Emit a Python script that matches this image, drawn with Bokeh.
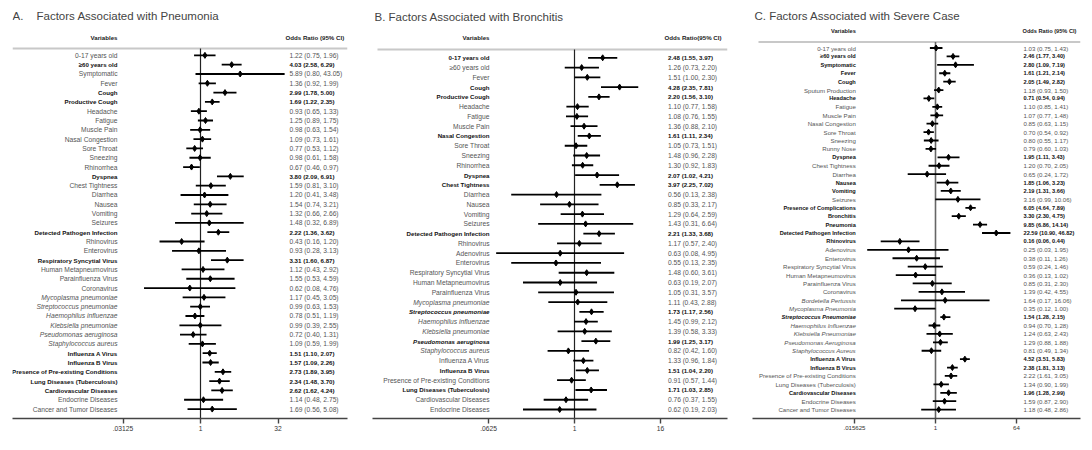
from bokeh.plotting import figure
from bokeh.layouts import row
from bokeh.models import Range1d, FixedTicker, CustomJSTickFormatter, ColumnDataSource, Label
from bokeh.core.properties import value, field
from bokeh.embed import file_html
from bokeh.resources import INLINE

# ---------------- Panel A: Pneumonia ----------------
a_vars = ["0-17 years old", "≥60 years old", "Symptomatic", "Fever", "Cough", "Productive Cough",
          "Headache", "Fatigue", "Muscle Pain", "Nasal Congestion", "Sore Throat", "Sneezing",
          "Rhinorrhea", "Dyspnea", "Chest Tightness", "Diarrhea", "Nausea", "Vomiting", "Seizures",
          "Detected Pathogen Infection", "Rhinovirus", "Enterovirus", "Respiratory Syncytial Virus",
          "Human Metapneumovirus", "Parainfluenza Virus", "Coronavirus", "Mycoplasma pneumoniae",
          "Streptococcus pneumoniae", "Haemophilus influenzae", "Klebsiella pneumoniae",
          "Pseudomonas aeruginosa", "Staphylococcus aureus", "Influenza A Virus", "Influenza B Virus",
          "Presence of Pre-existing Conditions", "Lung Diseases (Tuberculosis)",
          "Cardiovascular Diseases", "Endocrine Diseases", "Cancer and Tumor Diseases"]
a_or = [1.22, 4.03, 5.89, 1.36, 2.99, 1.69, 0.93, 1.25, 0.98, 1.09, 0.77, 0.98, 0.67, 3.80, 1.59,
        1.20, 1.54, 1.32, 1.48, 2.22, 0.43, 0.93, 3.31, 1.12, 1.55, 0.62, 1.17, 0.99, 0.78, 0.99,
        0.72, 1.09, 1.51, 1.57, 2.73, 2.34, 2.62, 1.14, 1.69]
a_lo = [0.75, 2.58, 0.80, 0.92, 1.78, 1.22, 0.65, 0.89, 0.63, 0.73, 0.53, 0.61, 0.46, 2.09, 0.81,
        0.41, 0.74, 0.66, 0.32, 1.36, 0.16, 0.28, 1.60, 0.43, 0.53, 0.08, 0.45, 0.63, 0.51, 0.39,
        0.40, 0.59, 1.10, 1.09, 1.89, 1.48, 1.62, 0.48, 0.56]
a_hi = [1.96, 6.29, 43.05, 1.99, 5.00, 2.35, 1.33, 1.75, 1.54, 1.61, 1.12, 1.58, 0.97, 6.91, 3.10,
        3.48, 3.21, 2.66, 6.89, 3.62, 1.20, 3.13, 6.87, 2.92, 4.59, 4.76, 3.05, 1.53, 1.19, 2.55,
        1.31, 1.99, 2.07, 2.26, 3.95, 3.70, 4.24, 2.75, 5.08]
a_bold = ["≥60 years old", "Cough", "Productive Cough", "Dyspnea", "Detected Pathogen Infection",
          "Respiratory Syncytial Virus", "Influenza A Virus", "Influenza B Virus",
          "Presence of Pre-existing Conditions", "Lung Diseases (Tuberculosis)", "Cardiovascular Diseases"]
a_italic = ["Mycoplasma pneumoniae", "Streptococcus pneumoniae", "Haemophilus influenzae",
            "Klebsiella pneumoniae", "Pseudomonas aeruginosa", "Staphylococcus aureus"]
a_ticks = [2 ** -5, 1, 2 ** 5]

# ---------------- Panel B: Bronchitis ----------------
b_vars = ["0-17 years old", "≥60 years old", "Fever", "Cough", "Productive Cough", "Headache",
          "Fatigue", "Muscle Pain", "Nasal Congestion", "Sore Throat", "Sneezing", "Rhinorrhea",
          "Dyspnea", "Chest Tightness", "Diarrhea", "Nausea", "Vomiting", "Seizures",
          "Detected Pathogen Infection", "Rhinovirus", "Adenovirus", "Enterovirus",
          "Respiratory Syncytial Virus", "Human Metapneumovirus", "Parainfluenza Virus",
          "Mycoplasma pneumoniae", "Streptococcus pneumoniae", "Haemophilus influenzae",
          "Klebsiella pneumoniae", "Pseudomonas aeruginosa", "Staphylococcus aureus",
          "Influenza A Virus", "Influenza B Virus", "Presence of Pre-existing Conditions",
          "Lung Diseases (Tuberculosis)", "Cardiovascular Diseases", "Endocrine Diseases"]
b_or = [2.48, 1.26, 1.51, 4.28, 2.20, 1.10, 1.08, 1.36, 1.61, 1.05, 1.48, 1.30, 2.07, 3.97, 0.56,
        0.85, 1.29, 1.43, 2.21, 1.17, 0.63, 0.55, 1.48, 0.63, 1.05, 1.11, 1.73, 1.45, 1.39, 1.99,
        0.82, 1.33, 1.51, 0.91, 1.71, 0.76, 0.62]
b_lo = [1.55, 0.73, 1.00, 2.35, 1.56, 0.77, 0.76, 0.88, 1.11, 0.73, 0.96, 0.92, 1.02, 2.25, 0.13,
        0.33, 0.64, 0.31, 1.33, 0.57, 0.08, 0.13, 0.60, 0.19, 0.31, 0.43, 1.17, 0.99, 0.58, 1.25,
        0.42, 0.96, 1.04, 0.57, 1.03, 0.37, 0.19]
b_hi = [3.97, 2.20, 2.30, 7.81, 3.10, 1.58, 1.55, 2.10, 2.34, 1.51, 2.28, 1.83, 4.21, 7.02, 2.38,
        2.17, 2.59, 6.64, 3.68, 2.40, 4.95, 2.35, 3.61, 2.07, 3.57, 2.88, 2.56, 2.12, 3.33, 3.17,
        1.60, 1.84, 2.20, 1.44, 2.85, 1.55, 2.03]
b_bold = ["0-17 years old", "Cough", "Productive Cough", "Nasal Congestion", "Dyspnea",
          "Chest Tightness", "Detected Pathogen Infection", "Streptococcus pneumoniae",
          "Pseudomonas aeruginosa", "Influenza B Virus", "Lung Diseases (Tuberculosis)"]
b_italic = ["Mycoplasma pneumoniae", "Streptococcus pneumoniae", "Haemophilus influenzae",
            "Klebsiella pneumoniae", "Pseudomonas aeruginosa", "Staphylococcus aureus"]
b_ticks = [2 ** -4, 1, 2 ** 4]

# ---------------- Panel C: Severe case ----------------
c_vars = ["0-17 years old", "≥60 years old", "Symptomatic", "Fever", "Cough", "Sputum Production",
          "Headache", "Fatigue", "Muscle Pain", "Nasal Congestion", "Sore Throat", "Sneezing",
          "Runny Nose", "Dyspnea", "Chest Tightness", "Diarrhea", "Nausea", "Vomiting", "Seizures",
          "Presence of Complications", "Bronchitis", "Pneumonia", "Detected Pathogen Infection",
          "Rhinovirus", "Adenovirus", "Enterovirus", "Respiratory Syncytial Virus",
          "Human Metapneumovirus", "Parainfluenza Virus", "Coronavirus", "Bordetella Pertussis",
          "Mycoplasma Pneumonia", "Streptococcus Pneumoniae", "Haemophilus Influenzae",
          "Klebsiella Pneumoniae", "Pseudomonas Aeruginosa", "Staphylococcus Aureus",
          "Influenza A Virus", "Influenza B Virus", "Presence of Pre-existing Conditions",
          "Lung Diseases (Tuberculosis)", "Cardiovascular Diseases", "Endocrine Diseases",
          "Cancer and Tumor Diseases"]
c_or = [1.03, 2.46, 2.80, 1.61, 2.05, 1.18, 0.71, 1.10, 1.07, 0.85, 0.70, 0.80, 0.79, 1.95, 1.20,
        0.65, 1.85, 2.19, 3.16, 6.05, 3.30, 9.85, 22.59, 0.16, 0.25, 0.38, 0.59, 0.36, 0.85, 1.39,
        1.64, 0.35, 1.54, 0.94, 1.24, 1.29, 0.81, 4.52, 2.38, 2.22, 1.34, 1.96, 1.59, 1.18]
c_lo = [0.75, 1.77, 1.09, 1.21, 1.49, 0.93, 0.54, 0.85, 0.77, 0.63, 0.54, 0.55, 0.60, 1.11, 0.70,
        0.24, 1.06, 1.31, 0.99, 4.64, 2.30, 6.86, 10.90, 0.06, 0.03, 0.11, 0.24, 0.13, 0.31, 0.42,
        0.17, 0.12, 1.28, 0.70, 0.63, 0.88, 0.49, 3.51, 1.81, 1.61, 0.90, 1.28, 0.87, 0.48]
c_hi = [1.43, 3.40, 7.19, 2.14, 2.82, 1.50, 0.94, 1.41, 1.48, 1.15, 0.92, 1.17, 1.03, 3.43, 2.05,
        1.72, 3.23, 3.66, 10.06, 7.89, 4.75, 14.14, 46.82, 0.44, 1.95, 1.26, 1.46, 1.02, 2.30, 4.55,
        16.06, 1.00, 2.15, 1.28, 2.43, 1.88, 1.34, 5.83, 3.13, 3.05, 1.99, 2.99, 2.90, 2.86]
c_bold = ["≥60 years old", "Symptomatic", "Fever", "Cough", "Headache", "Dyspnea", "Nausea",
          "Vomiting", "Presence of Complications", "Bronchitis", "Pneumonia",
          "Detected Pathogen Infection", "Rhinovirus", "Streptococcus Pneumoniae",
          "Influenza A Virus", "Influenza B Virus", "Cardiovascular Diseases"]
c_italic = ["Bordetella Pertussis", "Mycoplasma Pneumonia", "Streptococcus Pneumoniae",
            "Haemophilus Influenzae", "Klebsiella Pneumoniae", "Pseudomonas Aeruginosa",
            "Staphylococcus Aureus"]
c_ticks = [2 ** -6, 1, 2 ** 6]

FONT = "Liberation Sans"

# layout configuration for each panel (pixels in the picture)
cfgA = dict(left=0, w=370, h=445, fl=12, fr=347, x1=200, k=15.5, y0=55, dy=9.33, axis=419,
            hline=48, head=36.7, title_y=16, lab_r=117, or_l=289, orh_l=285,
            fs="6.7px", fsb="6.15px", lw=1.8, ms=6, ref_color="#222222", ref_w=1.2)
cfgB = dict(left=370, w=370, h=445, fl=372, fr=727, x1=574, k=21.5, y0=57.3, dy=9.77, axis=418,
            hline=49, head=36.7, title_y=16, lab_r=489, or_l=667.5, orh_l=664,
            fs="6.7px", fsb="6.15px", lw=1.8, ms=6, ref_color="#222222", ref_w=1.2, hl_from=377)
cfgC = dict(left=740, w=346, h=445, fl=752, fr=1080, x1=935, k=13.5, y0=48.3, dy=8.55, axis=425,
            hline=42.3, head=31, title_y=16, lab_r=855.3, or_l=1023, orh_l=1022,
            fs="6.1px", fsb="5.65px", lw=1.8, ms=6, ref_color="#666666", ref_w=1.6, hl_from=758)


def build(cfg, vars_, ors, los, his, bold, italic, ticks, titles, or_header):
    def X(px):
        return 2 ** ((px - cfg["x1"]) / cfg["k"])

    def Y(px):
        return (px - cfg["y0"]) / cfg["dy"]

    n = len(vars_)
    top_px = 0
    p = figure(width=cfg["w"], height=cfg["h"], x_axis_type="log",
               x_range=Range1d(X(cfg["fl"]), X(cfg["fr"])),
               y_range=Range1d(Y(cfg["axis"]), Y(top_px)),
               output_backend="svg", toolbar_location=None, y_axis_location=None,
               min_border_left=cfg["fl"] - cfg["left"],
               min_border_right=cfg["left"] + cfg["w"] - cfg["fr"],
               min_border_top=0,
               min_border_bottom=cfg["h"] - (cfg["axis"] - top_px))
    p.outline_line_color = None
    p.grid.visible = False
    p.background_fill_color = "white"
    p.border_fill_color = "white"

    styles, colors, sizes = [], [], []
    for v in vars_:
        b = v in bold
        i = v in italic
        styles.append("bold italic" if (b and i) else "bold" if b else "italic" if i else "normal")
        colors.append("#111111" if b else "#555555")
        sizes.append(cfg["fsb"] if b else cfg["fs"])
    or_txt = [f"{o:.2f} ({l:.2f}, {h:.2f})" for o, l, h in zip(ors, los, his)]
    or_styles = ["bold" if v in bold else "normal" for v in vars_]
    src = ColumnDataSource(dict(y=list(range(n)), name=vars_, orv=ors, lo=los, hi=his,
                                ortxt=or_txt, fstyle=styles, ostyle=or_styles, tcolor=colors,
                                fsize=sizes))

    # header rule
    hl_from = cfg.get("hl_from", cfg["fl"])
    p.segment(x0=[X(hl_from)], x1=[X(cfg["fr"])], y0=[Y(cfg["hline"])], y1=[Y(cfg["hline"])],
              line_color="#c8c8c8", line_width=2)
    # reference line at OR = 1
    p.segment(x0=[1], x1=[1], y0=[Y(cfg["hline"])], y1=[Y(cfg["axis"])],
              line_color=cfg["ref_color"], line_width=cfg["ref_w"])
    # confidence intervals and points
    p.segment(x0="lo", x1="hi", y0="y", y1="y", source=src, line_color="black",
              line_width=cfg["lw"])
    p.scatter(x="orv", y="y", source=src, marker="diamond", size=cfg["ms"],
              fill_color="black", line_color="black")
    # variable labels
    p.text(x=X(cfg["lab_r"]), y="y", text="name", source=src, text_align="right",
           text_baseline="middle", text_font=value(FONT), text_font_size=field("fsize"),
           text_font_style=field("fstyle"), text_color=field("tcolor"))
    # OR text
    p.text(x=X(cfg["or_l"]), y="y", text="ortxt", source=src, text_align="left",
           text_baseline="middle", text_font=value(FONT), text_font_size=field("fsize"),
           text_font_style=field("ostyle"), text_color=field("tcolor"))
    # headers
    p.text(x=[X(cfg["lab_r"])], y=[Y(cfg["head"])], text=["Variables"], text_align="right",
           text_baseline="middle", text_font=value(FONT), text_font_size=cfg["fsb"],
           text_font_style="bold", text_color="#222222")
    p.text(x=[X(cfg["orh_l"])], y=[Y(cfg["head"])], text=[or_header], text_align="left",
           text_baseline="middle", text_font=value(FONT), text_font_size=cfg["fsb"],
           text_font_style="bold", text_color="#222222")
    # titles
    for tx_px, t in titles:
        p.add_layout(Label(x=X(tx_px), y=Y(cfg["title_y"]), text=t, text_baseline="middle",
                           text_align="left", text_font=FONT, text_font_size="11.5px",
                           text_color="#444444"))

    ax = p.xaxis[0]
    ax.ticker = FixedTicker(ticks=ticks, minor_ticks=[])
    ax.formatter = CustomJSTickFormatter(
        code="if (tick < 1) { return '.' + tick.toString().split('.')[1]; } return tick.toFixed(0);")
    ax.axis_line_color = "#444444"
    ax.axis_line_width = 1.6
    ax.major_tick_line_color = "#444444"
    ax.major_tick_line_width = 1.4
    ax.major_tick_out = 5
    ax.major_tick_in = 0
    ax.minor_tick_out = 0
    ax.minor_tick_in = 0
    ax.major_label_standoff = 2
    ax.major_label_text_font = FONT
    ax.major_label_text_font_size = cfg["fs"]
    ax.major_label_text_color = "#333333"
    return p


pA = build(cfgA, a_vars, a_or, a_lo, a_hi, a_bold, a_italic, a_ticks,
           [(12, "A."), (36, "Factors Associated with Pneumonia")], "Odds Ratio (95% CI)")
pB = build(cfgB, b_vars, b_or, b_lo, b_hi, b_bold, b_italic, b_ticks,
           [(374, "B. Factors Associated with Bronchitis")], "Odds Ratio(95% CI)")
pC = build(cfgC, c_vars, c_or, c_lo, c_hi, c_bold, c_italic, c_ticks,
           [(754, "C. Factors Associated with Severe Case")], "Odds Ratio (95% CI)")

layout = row(pA, pB, pC, spacing=0)
open("out.html", "w").write(file_html(layout, INLINE))
